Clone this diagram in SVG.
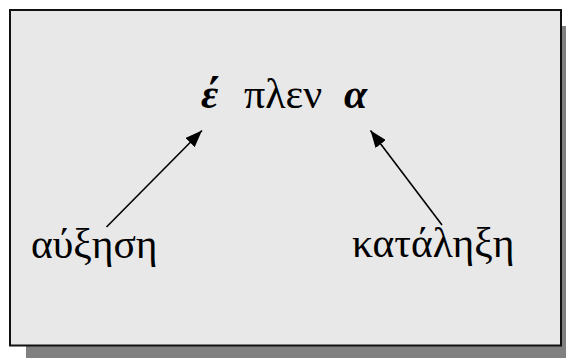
<svg xmlns="http://www.w3.org/2000/svg" width="566" height="358" viewBox="0 0 566 358">
<style>
.t{font-family:"Liberation Serif","Times New Roman",serif;font-size:41.5px;fill:#000}
.big{font-size:42px}
.bi{font-weight:bold;font-style:italic}
.c{stroke:#000;stroke-width:1.6;fill:none}
</style>
<defs>
<marker id="ah" viewBox="0 0 17 13" refX="17" refY="6.5" markerWidth="17" markerHeight="13" markerUnits="userSpaceOnUse" orient="auto">
<path d="M0,0 L17,6.5 L0,13 Z" fill="#000"/>
</marker>
</defs>
<g id="frame">
<rect x="26" y="26" width="540" height="332" fill="#808080"/>
<rect x="10" y="10" width="551" height="335.5" fill="#e8e8e8" stroke="#111" stroke-width="2"/>
</g>
<g id="word">
<text class="t big" y="108"><tspan class="bi" x="201">έ</tspan><tspan x="244">πλεν</tspan><tspan class="bi" x="344">α</tspan></text>
</g>
<g id="augment">
<text class="t" x="31" y="258">αύξηση</text>
</g>
<g id="ending">
<text class="t" x="352" y="257">κατάληξη</text>
</g>
<g id="connectors">
<line class="c" x1="106.5" y1="227" x2="202" y2="130.5" marker-end="url(#ah)"/>
<line class="c" x1="442" y1="225" x2="370.5" y2="130.5" marker-end="url(#ah)"/>
</g>
</svg>
